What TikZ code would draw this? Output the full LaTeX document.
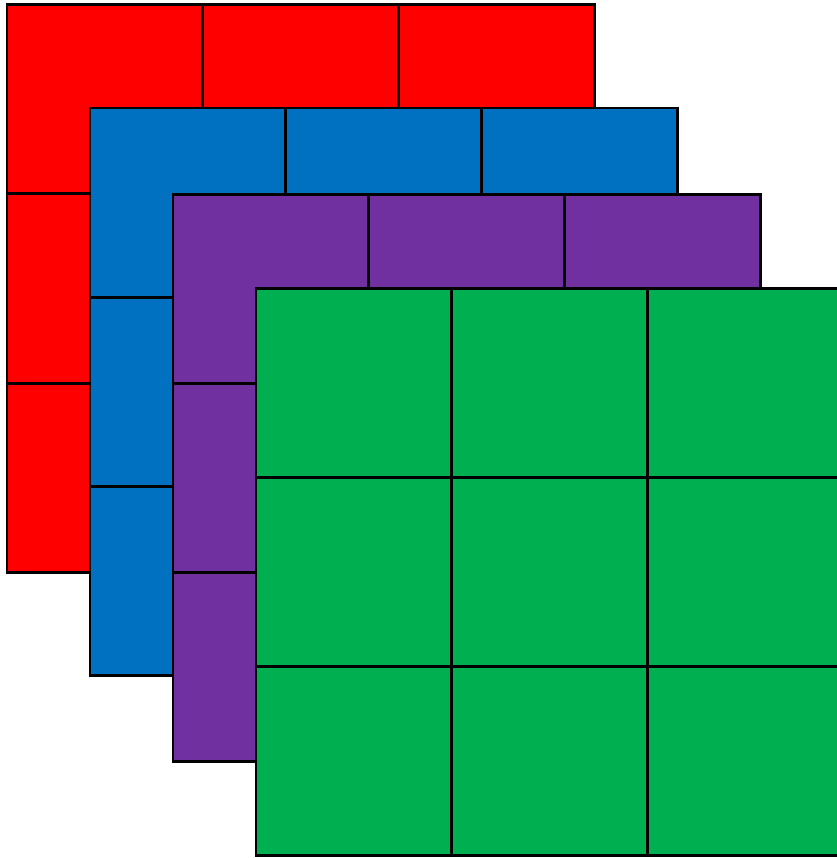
\documentclass[tikz,border=0pt]{standalone}
\usepackage{tikz}
\usepackage{xcolor}
\definecolor{layerred}{HTML}{FF0000}
\definecolor{layerblue}{HTML}{0070C0}
\definecolor{layerpurple}{HTML}{7030A0}
\definecolor{layergreen}{HTML}{00B050}
\tikzset{cell/.style={draw=black,line width=1.7pt}}

\begin{document}
\begin{tikzpicture}[x=0.2mm,y=-0.2mm]
\useasboundingbox (0,0) rectangle (837,858);
\clip (0,0) rectangle (837,858);
\foreach \ox/\oy/\col in {7/4.5/layerred,90/108/layerblue,173/194/layerpurple,256/288/layergreen}{
  \foreach \i in {0,1,2}{
    \foreach \j in {0,1,2}{
      \filldraw[cell,fill=\col] (\ox+\i*195.7,\oy+\j*189.3) rectangle ++(195.7,189.3);
    }
  }
}
\end{tikzpicture}
\end{document}
